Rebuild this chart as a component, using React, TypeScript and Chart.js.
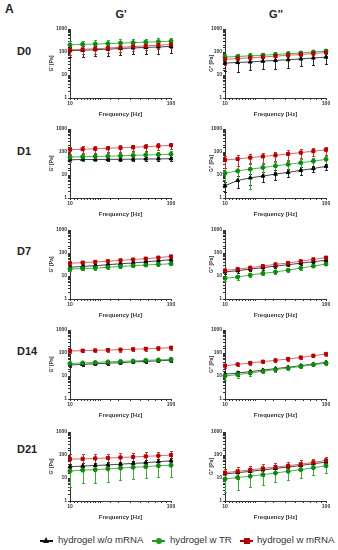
import React, { useEffect, useRef } from "react";
import { Chart, registerables } from "chart.js";
Chart.register(...registerables);

const FONT = 'Arial, "Liberation Sans", sans-serif';

// ---- shared axes / labels ----
const FREQ = [10, 13.34, 17.78, 23.71, 31.62, 42.17, 56.23, 74.99, 100];
const X_TICK_LABELS = [10, 100];
const Y_TICK_LABELS = [1, 10, 100, 1000];
const ROW_LABELS = ["D0", "D1", "D7", "D14", "D21"];
const COL_LABELS = ["G'", "G''"];
const Y_TITLES = ["G' [Pa]", "G'' [Pa]"];
const X_TITLE = "Frequency [Hz]";
const SERIES_NAMES = ["hydrogel w/o mRNA", "hydrogel w TR", "hydrogel w mRNA"];

// ---- D0 ----
const D0_GP_BLACK = [115, 120, 126, 133, 142, 150, 158, 166, 175];
const D0_GP_BLACK_ERR = [55, 60, 62, 65, 70, 72, 78, 82, 88];
const D0_GP_GREEN = [205, 215, 222, 232, 245, 255, 268, 280, 295];
const D0_GP_GREEN_ERR = [95, 100, 100, 105, 110, 110, 115, 115, 120];
const D0_GP_RED = [125, 130, 138, 148, 160, 172, 185, 198, 212];
const D0_GP_RED_ERR = [50, 50, 55, 55, 60, 60, 65, 65, 70];

const D0_GPP_BLACK = [33, 35, 37, 40, 43, 46, 50, 55, 60];
const D0_GPP_BLACK_ERR = [18, 21, 21, 22, 24, 25, 26, 28, 30];
const D0_GPP_GREEN = [60, 64, 68, 73, 78, 84, 91, 100, 110];
const D0_GPP_GREEN_ERR = [18, 18, 19, 20, 20, 22, 22, 24, 25];
const D0_GPP_RED = [48, 52, 56, 61, 66, 72, 78, 86, 95];
const D0_GPP_RED_ERR = [20, 20, 20, 22, 22, 24, 25, 26, 28];

// ---- D1 ----
const D1_GP_BLACK = [46, 47, 47, 48, 48, 49, 50, 50, 51];
const D1_GP_BLACK_ERR = [8, 8, 8, 8, 9, 9, 9, 10, 10];
const D1_GP_GREEN = [60, 62, 64, 66, 68, 71, 74, 77, 80];
const D1_GP_GREEN_ERR = [22, 22, 22, 23, 24, 25, 26, 27, 28];
const D1_GP_RED = [126, 132, 138, 145, 152, 160, 170, 182, 196];
const D1_GP_RED_ERR = [40, 42, 45, 45, 48, 50, 55, 58, 62];

const D1_GPP_BLACK = [3.4, 5.8, 7.5, 9, 11, 13, 16, 19, 24];
const D1_GPP_BLACK_ERR = [1.5, 3, 4, 4, 5, 5, 6, 6, 7];
const D1_GPP_GREEN = [12, 15, 18, 21, 25, 29, 34, 40, 48];
const D1_GPP_GREEN_ERR = [8, 9, 15.5, 10, 12, 13, 15, 17, 20];
const D1_GPP_RED = [45, 50, 57, 64, 72, 82, 94, 108, 125];
const D1_GPP_RED_ERR = [25, 25, 27, 30, 32, 35, 38, 42, 48];

// ---- D7 ----
const D7_GP_BLACK = [24, 26, 28, 31, 34, 37, 41, 46, 51];
const D7_GP_BLACK_ERR = [4, 4, 4, 5, 5, 5, 6, 6, 7];
const D7_GP_GREEN = [20, 21, 22, 24, 26, 28, 30, 32, 34];
const D7_GP_GREEN_ERR = [3, 3, 3, 3, 4, 4, 4, 4, 5];
const D7_GP_RED = [36, 38, 41, 44, 48, 52, 57, 63, 71];
const D7_GP_RED_ERR = [5, 5, 5, 6, 6, 7, 7, 8, 9];

const D7_GPP_BLACK = [15, 17, 20, 23, 27, 31, 36, 42, 48];
const D7_GPP_BLACK_ERR = [3, 3, 3, 4, 4, 5, 5, 6, 6];
const D7_GPP_GREEN = [8, 9, 11, 13, 15, 18, 22, 27, 33];
const D7_GPP_GREEN_ERR = [2, 2.5, 2, 2, 2.5, 3, 3, 3.5, 4];
const D7_GPP_RED = [17.4, 20, 23, 27, 32, 37, 44, 53, 63];
const D7_GPP_RED_ERR = [3, 3, 4, 4, 5, 5, 6, 7, 8];

// ---- D14 ----
const D14_GP_BLACK = [30, 32, 34, 36, 38, 41, 43, 46, 49];
const D14_GP_BLACK_ERR = [5, 5, 5, 6, 6, 6, 7, 7, 8];
const D14_GP_GREEN = [35, 37, 39, 41, 43, 45, 48, 50, 53];
const D14_GP_GREEN_ERR = [4, 4, 5, 5, 5, 6, 6, 6, 7];
const D14_GP_RED = [122, 126, 130, 135, 140, 146, 152, 160, 170];
const D14_GP_RED_ERR = [20, 20, 22, 22, 24, 25, 26, 28, 30];

const D14_GPP_BLACK = [12, 13.5, 15.5, 18, 21, 24, 28, 33, 39];
const D14_GPP_BLACK_ERR = [2, 3, 3, 3, 4, 4, 5, 5, 6];
const D14_GPP_GREEN = [10, 11.5, 13.5, 16, 19, 22, 26, 31, 36];
const D14_GPP_GREEN_ERR = [3, 3, 3, 3, 4, 4, 4, 5, 5];
const D14_GPP_RED = [28, 32, 37, 42, 48, 55, 64, 76, 91];
const D14_GPP_RED_ERR = [5, 5, 6, 7, 8, 9, 10, 12, 14];

// ---- D21 ----
const D21_GP_BLACK = [31, 33, 35, 37, 40, 43, 46, 51, 56];
const D21_GP_BLACK_ERR = [10, 10, 11, 12, 12, 13, 14, 15, 16];
const D21_GP_GREEN = [20, 22, 23, 25, 27, 29, 31, 34, 36];
const D21_GP_GREEN_ERR = [16, 16, 17, 18, 19, 20, 21, 23, 25];
const D21_GP_RED = [66, 68, 71, 74, 78, 82, 87, 93, 100];
const D21_GP_RED_ERR = [40, 38, 38, 40, 42, 42, 45, 45, 48];

const D21_GPP_BLACK = [15, 17, 19.5, 22.5, 26, 30, 35, 42, 49];
const D21_GPP_BLACK_ERR = [5, 6, 7, 8, 9, 10, 11, 13, 15];
const D21_GPP_GREEN = [9, 10.5, 12, 14, 16.5, 19.5, 23, 28, 34];
const D21_GPP_GREEN_ERR = [6.5, 7.5, 8, 9, 10, 11, 13, 15, 18];
const D21_GPP_RED = [17, 19.5, 22.5, 26, 30, 34, 40, 48, 58];
const D21_GPP_RED_ERR = [8, 10, 11, 14, 15, 16, 18, 20, 22];

const PANELS = [
  [
    [D0_GP_BLACK, D0_GP_BLACK_ERR, D0_GP_GREEN, D0_GP_GREEN_ERR, D0_GP_RED, D0_GP_RED_ERR],
    [D0_GPP_BLACK, D0_GPP_BLACK_ERR, D0_GPP_GREEN, D0_GPP_GREEN_ERR, D0_GPP_RED, D0_GPP_RED_ERR],
  ],
  [
    [D1_GP_BLACK, D1_GP_BLACK_ERR, D1_GP_GREEN, D1_GP_GREEN_ERR, D1_GP_RED, D1_GP_RED_ERR],
    [D1_GPP_BLACK, D1_GPP_BLACK_ERR, D1_GPP_GREEN, D1_GPP_GREEN_ERR, D1_GPP_RED, D1_GPP_RED_ERR],
  ],
  [
    [D7_GP_BLACK, D7_GP_BLACK_ERR, D7_GP_GREEN, D7_GP_GREEN_ERR, D7_GP_RED, D7_GP_RED_ERR],
    [D7_GPP_BLACK, D7_GPP_BLACK_ERR, D7_GPP_GREEN, D7_GPP_GREEN_ERR, D7_GPP_RED, D7_GPP_RED_ERR],
  ],
  [
    [D14_GP_BLACK, D14_GP_BLACK_ERR, D14_GP_GREEN, D14_GP_GREEN_ERR, D14_GP_RED, D14_GP_RED_ERR],
    [D14_GPP_BLACK, D14_GPP_BLACK_ERR, D14_GPP_GREEN, D14_GPP_GREEN_ERR, D14_GPP_RED, D14_GPP_RED_ERR],
  ],
  [
    [D21_GP_BLACK, D21_GP_BLACK_ERR, D21_GP_GREEN, D21_GP_GREEN_ERR, D21_GP_RED, D21_GP_RED_ERR],
    [D21_GPP_BLACK, D21_GPP_BLACK_ERR, D21_GPP_GREEN, D21_GPP_GREEN_ERR, D21_GPP_RED, D21_GPP_RED_ERR],
  ],
];

// ---- layout ----
const ROW_TOPS = [20, 120, 221, 321, 423];
const COL_LEFTS = [40, 195];
const CANVAS_W = 140;
const CANVAS_H = 100;
const ROW_LABEL_TOPS = [46, 146, 246, 346, 444];

const isDecade = (v: number) => {
  const l = Math.log10(v);
  return Math.abs(l - Math.round(l)) < 1e-6;
};

const errorBarPlugin = {
  id: "errbars",
  beforeDatasetsDraw(chart: any) {
    const ctx = chart.ctx;
    const xs = chart.scales.x;
    const ys = chart.scales.y;
    const a = chart.chartArea;
    ctx.save();
    ctx.beginPath();
    ctx.rect(a.left - 4, a.top - 4, a.right - a.left + 8, a.bottom - a.top + 4);
    ctx.clip();
    const metas = chart.getSortedVisibleDatasetMetas().slice().reverse();
    metas.forEach((meta: any) => {
      const ds: any = chart.data.datasets[meta.index];
      const errs = ds.errors;
      if (!errs) return;
      ctx.strokeStyle = ds.errorColor;
      ctx.lineWidth = 1;
      ds.data.forEach((p: any, i: number) => {
        const x = Math.round(xs.getPixelForValue(p.x)) + 0.5;
        const hi = Math.round(ys.getPixelForValue(p.y + errs[i])) + 0.5;
        const lowV = p.y - errs[i];
        const lo = Math.round(ys.getPixelForValue(Math.max(lowV, 1))) + 0.5;
        ctx.beginPath();
        ctx.moveTo(x, hi);
        ctx.lineTo(x, lo);
        ctx.moveTo(x - 1.5, hi);
        ctx.lineTo(x + 1.5, hi);
        if (lowV > 1) {
          ctx.moveTo(x - 1.5, lo);
          ctx.lineTo(x + 1.5, lo);
        }
        ctx.stroke();
      });
    });
    ctx.restore();
  },
};

function Panel({ row, col }: { row: number; col: number }) {
  const ref = useRef<HTMLCanvasElement>(null);
  useEffect(() => {
    const [bk, bkE, gr, grE, rd, rdE] = PANELS[row][col];
    const pts = (vals: number[]) => FREQ.map((f, i) => ({ x: f, y: vals[i] }));
    const tickFont = { size: 5, weight: "bold" as const, family: FONT };
    const chart = new Chart(ref.current as HTMLCanvasElement, {
      type: "line",
      data: {
        datasets: [
          {
            label: SERIES_NAMES[0],
            data: pts(bk),
            errors: bkE,
            errorColor: "#2a2a2a",
            borderColor: "#444444",
            backgroundColor: "#000000",
            pointBackgroundColor: "#000000",
            pointBorderColor: "#000000",
            pointStyle: "triangle",
            pointRadius: 2.2,
            borderWidth: 1,
            order: 2,
            clip: false,
          } as any,
          {
            label: SERIES_NAMES[1],
            data: pts(gr),
            errors: grE,
            errorColor: "#3aa83a",
            borderColor: "#47b847",
            backgroundColor: "#0d8a0d",
            pointBackgroundColor: "#0d8a0d",
            pointBorderColor: "#0d8a0d",
            pointStyle: "circle",
            pointRadius: 2,
            borderWidth: 1,
            order: 1,
            clip: false,
          } as any,
          {
            label: SERIES_NAMES[2],
            data: pts(rd),
            errors: rdE,
            errorColor: "#cc3333",
            borderColor: "#e06464",
            backgroundColor: "#b40000",
            pointBackgroundColor: "#b40000",
            pointBorderColor: "#b40000",
            pointStyle: "rect",
            pointRadius: 2.2,
            borderWidth: 1,
            order: 0,
            clip: false,
          } as any,
        ],
      },
      options: {
        responsive: false,
        animation: false,
        events: [],
        layout: { padding: { top: 9, right: 9, left: 0, bottom: 0 } },
        plugins: { legend: { display: false }, tooltip: { enabled: false } },
        scales: {
          x: {
            type: "logarithmic",
            min: 10,
            max: 100,
            afterFit: (s: any) => {
              s.height = 22;
            },
            ticks: {
              autoSkip: false,
              maxRotation: 0,
              padding: 1,
              color: "#333",
              font: tickFont,
              callback: (v: any) => (X_TICK_LABELS.includes(Math.round(Number(v))) && isDecade(Number(v)) ? String(Math.round(Number(v))) : ""),
            },
            grid: { drawOnChartArea: false, drawTicks: true, tickLength: 2, color: "#333" },
            border: { display: true, color: "#333", width: 1 },
            title: {
              display: true,
              text: X_TITLE,
              color: "#333",
              font: { size: 6, weight: "bold", family: FONT },
              padding: { top: 0, bottom: 2 },
            },
          },
          y: {
            type: "logarithmic",
            min: 1,
            max: 1000,
            afterFit: (s: any) => {
              s.width = 30;
            },
            ticks: {
              autoSkip: false,
              padding: 1,
              color: "#333",
              font: tickFont,
              callback: (v: any) => {
                const n = Number(v);
                return isDecade(n) && Y_TICK_LABELS.includes(Math.round(n)) ? String(Math.round(n)) : "";
              },
            },
            grid: { drawOnChartArea: false, drawTicks: true, tickLength: 2, color: "#333" },
            border: { display: true, color: "#333", width: 1 },
            title: {
              display: true,
              text: Y_TITLES[col],
              color: "#333",
              font: { size: 5, weight: "bold", family: FONT },
              padding: { top: col === 0 ? 9 : 14, bottom: 0 },
            },
          },
        },
      } as any,
      plugins: [errorBarPlugin],
    });
    return () => chart.destroy();
  }, [row, col]);
  return (
    <canvas
      ref={ref}
      width={CANVAS_W}
      height={CANVAS_H}
      style={{ position: "absolute", left: COL_LEFTS[col], top: ROW_TOPS[row], width: CANVAS_W, height: CANVAS_H }}
    />
  );
}

function LegendMarker({ kind, color, left }: { kind: string; color: string; left: number }) {
  let marker: React.ReactNode;
  if (kind === "triangle") {
    marker = (
      <div
        style={{
          position: "absolute",
          left: 3,
          top: -3,
          width: 0,
          height: 0,
          borderLeft: "3.5px solid transparent",
          borderRight: "3.5px solid transparent",
          borderBottom: `6px solid ${color}`,
        }}
      />
    );
  } else if (kind === "circle") {
    marker = <div style={{ position: "absolute", left: 3.5, top: -2.5, width: 6, height: 6, borderRadius: 3, background: color }} />;
  } else {
    marker = <div style={{ position: "absolute", left: 3.5, top: -2.5, width: 6, height: 6, background: color }} />;
  }
  return (
    <div style={{ position: "absolute", left, top: 540, width: 13, height: 1 }}>
      <div style={{ position: "absolute", left: 0, top: 0, width: 13, height: 1.5, background: color }} />
      {marker}
    </div>
  );
}

export default function App() {
  const textBase: React.CSSProperties = { position: "absolute", fontFamily: FONT, color: "#222", whiteSpace: "nowrap", lineHeight: 1 };
  const legendText: React.CSSProperties = { ...textBase, top: 535, fontSize: 9.6, color: "#333" };
  return (
    <div style={{ position: "absolute", left: 0, top: 0, width: 338, height: 550, background: "#fff", overflow: "hidden" }}>
      <div style={{ ...textBase, left: 5, top: 3, fontSize: 12, fontWeight: "bold" }}>A</div>
      {COL_LABELS.map((c, i) => (
        <div
          key={c}
          style={{ ...textBase, left: i === 0 ? 111 : 266, width: 20, textAlign: "center", top: 9, fontSize: 11, fontWeight: "bold" }}
        >
          {c}
        </div>
      ))}
      {ROW_LABELS.map((r, i) => (
        <div key={r} style={{ ...textBase, left: 17, top: ROW_LABEL_TOPS[i], fontSize: 11, fontWeight: "bold" }}>
          {r}
        </div>
      ))}
      {ROW_LABELS.map((_, r) => [0, 1].map((c) => <Panel key={`${r}-${c}`} row={r} col={c} />))}
      <LegendMarker kind="triangle" color="#111" left={40} />
      <div style={{ ...legendText, left: 58 }}>{SERIES_NAMES[0]}</div>
      <LegendMarker kind="circle" color="#1a9a1a" left={152} />
      <div style={{ ...legendText, left: 170 }}>{SERIES_NAMES[1]}</div>
      <LegendMarker kind="rect" color="#b40000" left={240} />
      <div style={{ ...legendText, left: 257 }}>{SERIES_NAMES[2]}</div>
    </div>
  );
}
